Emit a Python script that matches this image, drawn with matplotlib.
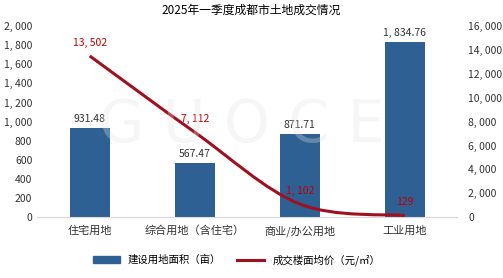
import numpy as np
import matplotlib.pyplot as plt
from matplotlib.path import Path
from matplotlib.patches import PathPatch
from matplotlib.lines import Line2D
from matplotlib.patches import Patch

plt.rcParams['font.family'] = ['Noto Sans CJK SC', 'DejaVu Sans']

categories = ['住宅用地', '综合用地（含住宅）', '商业/办公用地', '工业用地']
area = [931.48, 567.47, 871.71, 1834.76]
price = [13502, 7112, 1102, 129]
area_labels = ['931.48', '567.47', '871.71', '1, 834.76']
price_labels = ['13, 502', '7, 112', '1, 102', '129']

bar_color = '#2E6094'
line_color = '#A0101E'
label_red = '#C00000'


def smooth_path(xs, ys, t=0.5):
    # catmull-rom style bezier through points (Excel "smoothed line")
    pts = np.column_stack([xs, ys]).astype(float)
    verts = [pts[0]]
    codes = [Path.MOVETO]
    n = len(pts)
    for i in range(n - 1):
        p0 = pts[i - 1] if i > 0 else pts[i]
        p1, p2 = pts[i], pts[i + 1]
        p3 = pts[i + 2] if i + 2 < n else pts[i + 1]
        c1 = p1 + (p2 - p0) * t / 3
        c2 = p2 - (p3 - p1) * t / 3
        verts += [c1, c2, p2]
        codes += [Path.CURVE4] * 3
    return Path(verts, codes)


fig = plt.figure(figsize=(5.03, 2.78), dpi=100)
ax = fig.add_axes([0.074, 0.219, 0.835, 0.687])
ax2 = ax.twinx()

x = np.arange(len(categories))
ax.bar(x, area, width=0.38, color=bar_color, zorder=2)
ax.set_ylim(0, 2000)
ax.set_yticks(np.arange(0, 2001, 200))
ax.set_yticklabels([f'{v:,}'.replace(',', ', ') for v in range(0, 2001, 200)])
ax.set_xlim(-0.5, 3.5)
ax.set_xticks(x)
ax.set_xticklabels(categories)

ax2.set_ylim(0, 16000)
ax2.set_yticks(np.arange(0, 16001, 2000))
ax2.set_yticklabels([f'{v:,}'.replace(',', ', ') for v in range(0, 16001, 2000)])
ax2.add_patch(PathPatch(smooth_path(x, price), facecolor='none',
                        edgecolor=line_color, lw=2.2, zorder=3))

for a in (ax, ax2):
    for s in a.spines.values():
        s.set_visible(False)
    a.tick_params(length=0, labelsize=7.5, colors='#333333')
ax.spines['bottom'].set_visible(True)
ax.spines['bottom'].set_color('#D9D9D9')
ax.tick_params(axis='x', labelsize=8, pad=6)
ax2.tick_params(axis='y', pad=8)

for xi, v, lab in zip(x, area, area_labels):
    ax.text(xi, v + 40, lab, ha='center', va='bottom', fontsize=7.5, color='#333333')
for xi, v, lab in zip(x, price, price_labels):
    ax2.text(xi, v + 700, lab, ha='center', va='bottom', fontsize=7.5, color=label_red, zorder=4)

# faint watermark
fig.text(0.48, 0.55, 'G U O C E', ha='center', va='center', fontsize=42,
         color='#E2E2E2', alpha=0.3, family='DejaVu Sans', zorder=0)

fig.suptitle('2025年一季度成都市土地成交情况', x=0.5, y=0.985, fontsize=8.5)

handles = [Patch(color=bar_color), Line2D([0], [0], color=line_color, lw=2.2)]
fig.legend(handles, ['建设用地面积（亩）', '成交楼面均价（元/㎡）'], loc='center',
           bbox_to_anchor=(0.47, 0.065), ncol=2, frameon=False, fontsize=7.5,
           handlelength=2.6, handleheight=0.7, columnspacing=1.5)

fig.savefig('out.png', dpi=100)
